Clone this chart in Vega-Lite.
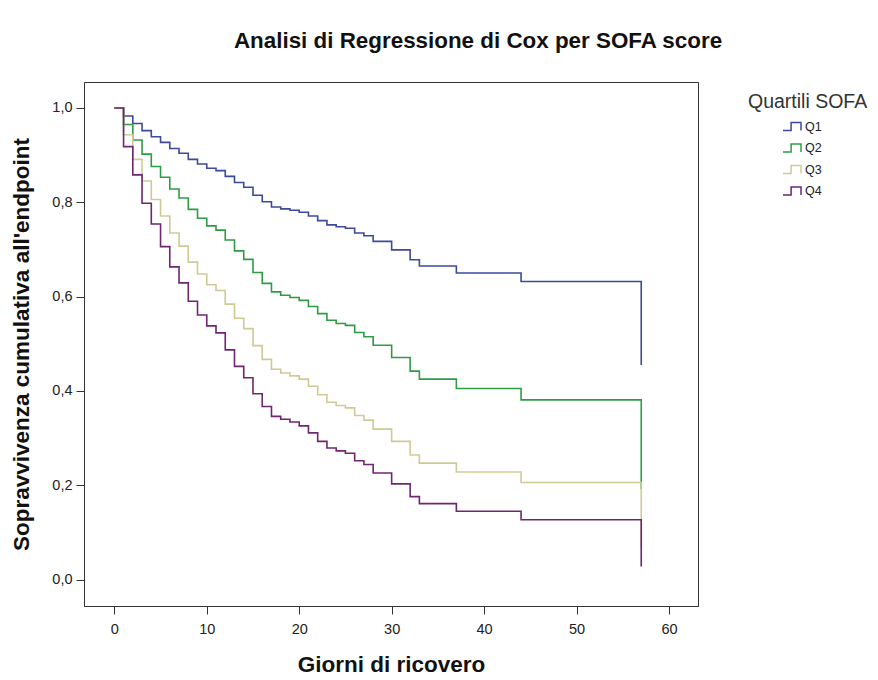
{
  "$schema": "https://vega.github.io/schema/vega-lite/v6.json",
  "width": 614,
  "height": 524,
  "autosize": {"type": "none"},
  "padding": {"left": 84, "top": 82, "right": 180, "bottom": 74},
  "background": "white",
  "title": {
    "text": "Analisi di Regressione di Cox per SOFA score",
    "anchor": "middle",
    "frame": "group",
    "dx": 87,
    "offset": 30,
    "font": "Liberation Sans",
    "fontSize": 22.4,
    "fontWeight": "bold",
    "color": "#111"
  },
  "config": {
    "view": {"stroke": "#333", "strokeWidth": 1},
    "axis": {
      "grid": false,
      "domainColor": "#333",
      "tickColor": "#333",
      "tickSize": 8,
      "labelFont": "Liberation Sans",
      "labelFontSize": 14.5,
      "labelColor": "#222",
      "titleFont": "Liberation Sans",
      "titleFontSize": 22.5,
      "titleFontWeight": "bold",
      "titleColor": "#111"
    },
    "legend": {"padding": 0}
  },
  "data": {"values": [
    {"giorni":0,"sopravvivenza":1.0,"quartile":"Q1"},{"giorni":1,"sopravvivenza":0.983,"quartile":"Q1"},{"giorni":2,"sopravvivenza":0.967,"quartile":"Q1"},{"giorni":3,"sopravvivenza":0.952,"quartile":"Q1"},{"giorni":4,"sopravvivenza":0.939,"quartile":"Q1"},{"giorni":5,"sopravvivenza":0.927,"quartile":"Q1"},{"giorni":6,"sopravvivenza":0.914,"quartile":"Q1"},{"giorni":7,"sopravvivenza":0.904,"quartile":"Q1"},{"giorni":8,"sopravvivenza":0.891,"quartile":"Q1"},{"giorni":9,"sopravvivenza":0.881,"quartile":"Q1"},{"giorni":10,"sopravvivenza":0.872,"quartile":"Q1"},{"giorni":11,"sopravvivenza":0.867,"quartile":"Q1"},{"giorni":12,"sopravvivenza":0.855,"quartile":"Q1"},{"giorni":13,"sopravvivenza":0.842,"quartile":"Q1"},{"giorni":14,"sopravvivenza":0.832,"quartile":"Q1"},{"giorni":15,"sopravvivenza":0.815,"quartile":"Q1"},{"giorni":16,"sopravvivenza":0.801,"quartile":"Q1"},{"giorni":17,"sopravvivenza":0.79,"quartile":"Q1"},{"giorni":18,"sopravvivenza":0.786,"quartile":"Q1"},{"giorni":19,"sopravvivenza":0.783,"quartile":"Q1"},{"giorni":20,"sopravvivenza":0.779,"quartile":"Q1"},{"giorni":21,"sopravvivenza":0.771,"quartile":"Q1"},{"giorni":22,"sopravvivenza":0.761,"quartile":"Q1"},{"giorni":23,"sopravvivenza":0.752,"quartile":"Q1"},{"giorni":24,"sopravvivenza":0.748,"quartile":"Q1"},{"giorni":25,"sopravvivenza":0.745,"quartile":"Q1"},{"giorni":26,"sopravvivenza":0.735,"quartile":"Q1"},{"giorni":27,"sopravvivenza":0.729,"quartile":"Q1"},{"giorni":28,"sopravvivenza":0.717,"quartile":"Q1"},{"giorni":30,"sopravvivenza":0.699,"quartile":"Q1"},{"giorni":32,"sopravvivenza":0.678,"quartile":"Q1"},{"giorni":33,"sopravvivenza":0.665,"quartile":"Q1"},{"giorni":37,"sopravvivenza":0.65,"quartile":"Q1"},{"giorni":44,"sopravvivenza":0.632,"quartile":"Q1"},{"giorni":57,"sopravvivenza":0.455,"quartile":"Q1"},
    {"giorni":0,"sopravvivenza":1.0,"quartile":"Q2"},{"giorni":1,"sopravvivenza":0.965,"quartile":"Q2"},{"giorni":2,"sopravvivenza":0.932,"quartile":"Q2"},{"giorni":3,"sopravvivenza":0.902,"quartile":"Q2"},{"giorni":4,"sopravvivenza":0.876,"quartile":"Q2"},{"giorni":5,"sopravvivenza":0.853,"quartile":"Q2"},{"giorni":6,"sopravvivenza":0.828,"quartile":"Q2"},{"giorni":7,"sopravvivenza":0.809,"quartile":"Q2"},{"giorni":8,"sopravvivenza":0.785,"quartile":"Q2"},{"giorni":9,"sopravvivenza":0.766,"quartile":"Q2"},{"giorni":10,"sopravvivenza":0.75,"quartile":"Q2"},{"giorni":11,"sopravvivenza":0.741,"quartile":"Q2"},{"giorni":12,"sopravvivenza":0.72,"quartile":"Q2"},{"giorni":13,"sopravvivenza":0.697,"quartile":"Q2"},{"giorni":14,"sopravvivenza":0.679,"quartile":"Q2"},{"giorni":15,"sopravvivenza":0.651,"quartile":"Q2"},{"giorni":16,"sopravvivenza":0.628,"quartile":"Q2"},{"giorni":17,"sopravvivenza":0.61,"quartile":"Q2"},{"giorni":18,"sopravvivenza":0.603,"quartile":"Q2"},{"giorni":19,"sopravvivenza":0.598,"quartile":"Q2"},{"giorni":20,"sopravvivenza":0.592,"quartile":"Q2"},{"giorni":21,"sopravvivenza":0.579,"quartile":"Q2"},{"giorni":22,"sopravvivenza":0.564,"quartile":"Q2"},{"giorni":23,"sopravvivenza":0.55,"quartile":"Q2"},{"giorni":24,"sopravvivenza":0.543,"quartile":"Q2"},{"giorni":25,"sopravvivenza":0.539,"quartile":"Q2"},{"giorni":26,"sopravvivenza":0.524,"quartile":"Q2"},{"giorni":27,"sopravvivenza":0.515,"quartile":"Q2"},{"giorni":28,"sopravvivenza":0.497,"quartile":"Q2"},{"giorni":30,"sopravvivenza":0.471,"quartile":"Q2"},{"giorni":32,"sopravvivenza":0.442,"quartile":"Q2"},{"giorni":33,"sopravvivenza":0.425,"quartile":"Q2"},{"giorni":37,"sopravvivenza":0.405,"quartile":"Q2"},{"giorni":44,"sopravvivenza":0.381,"quartile":"Q2"},{"giorni":57,"sopravvivenza":0.192,"quartile":"Q2"},
    {"giorni":0,"sopravvivenza":1.0,"quartile":"Q3"},{"giorni":1,"sopravvivenza":0.943,"quartile":"Q3"},{"giorni":2,"sopravvivenza":0.891,"quartile":"Q3"},{"giorni":3,"sopravvivenza":0.845,"quartile":"Q3"},{"giorni":4,"sopravvivenza":0.806,"quartile":"Q3"},{"giorni":5,"sopravvivenza":0.771,"quartile":"Q3"},{"giorni":6,"sopravvivenza":0.735,"quartile":"Q3"},{"giorni":7,"sopravvivenza":0.707,"quartile":"Q3"},{"giorni":8,"sopravvivenza":0.673,"quartile":"Q3"},{"giorni":9,"sopravvivenza":0.648,"quartile":"Q3"},{"giorni":10,"sopravvivenza":0.625,"quartile":"Q3"},{"giorni":11,"sopravvivenza":0.613,"quartile":"Q3"},{"giorni":12,"sopravvivenza":0.584,"quartile":"Q3"},{"giorni":13,"sopravvivenza":0.554,"quartile":"Q3"},{"giorni":14,"sopravvivenza":0.532,"quartile":"Q3"},{"giorni":15,"sopravvivenza":0.496,"quartile":"Q3"},{"giorni":16,"sopravvivenza":0.467,"quartile":"Q3"},{"giorni":17,"sopravvivenza":0.446,"quartile":"Q3"},{"giorni":18,"sopravvivenza":0.438,"quartile":"Q3"},{"giorni":19,"sopravvivenza":0.432,"quartile":"Q3"},{"giorni":20,"sopravvivenza":0.425,"quartile":"Q3"},{"giorni":21,"sopravvivenza":0.41,"quartile":"Q3"},{"giorni":22,"sopravvivenza":0.392,"quartile":"Q3"},{"giorni":23,"sopravvivenza":0.376,"quartile":"Q3"},{"giorni":24,"sopravvivenza":0.369,"quartile":"Q3"},{"giorni":25,"sopravvivenza":0.364,"quartile":"Q3"},{"giorni":26,"sopravvivenza":0.348,"quartile":"Q3"},{"giorni":27,"sopravvivenza":0.338,"quartile":"Q3"},{"giorni":28,"sopravvivenza":0.319,"quartile":"Q3"},{"giorni":30,"sopravvivenza":0.293,"quartile":"Q3"},{"giorni":32,"sopravvivenza":0.264,"quartile":"Q3"},{"giorni":33,"sopravvivenza":0.247,"quartile":"Q3"},{"giorni":37,"sopravvivenza":0.228,"quartile":"Q3"},{"giorni":44,"sopravvivenza":0.206,"quartile":"Q3"},{"giorni":57,"sopravvivenza":0.067,"quartile":"Q3"},
    {"giorni":0,"sopravvivenza":1.0,"quartile":"Q4"},{"giorni":1,"sopravvivenza":0.918,"quartile":"Q4"},{"giorni":2,"sopravvivenza":0.858,"quartile":"Q4"},{"giorni":3,"sopravvivenza":0.798,"quartile":"Q4"},{"giorni":4,"sopravvivenza":0.754,"quartile":"Q4"},{"giorni":5,"sopravvivenza":0.706,"quartile":"Q4"},{"giorni":6,"sopravvivenza":0.663,"quartile":"Q4"},{"giorni":7,"sopravvivenza":0.629,"quartile":"Q4"},{"giorni":8,"sopravvivenza":0.59,"quartile":"Q4"},{"giorni":9,"sopravvivenza":0.561,"quartile":"Q4"},{"giorni":10,"sopravvivenza":0.538,"quartile":"Q4"},{"giorni":11,"sopravvivenza":0.523,"quartile":"Q4"},{"giorni":12,"sopravvivenza":0.487,"quartile":"Q4"},{"giorni":13,"sopravvivenza":0.452,"quartile":"Q4"},{"giorni":14,"sopravvivenza":0.428,"quartile":"Q4"},{"giorni":15,"sopravvivenza":0.394,"quartile":"Q4"},{"giorni":16,"sopravvivenza":0.367,"quartile":"Q4"},{"giorni":17,"sopravvivenza":0.346,"quartile":"Q4"},{"giorni":18,"sopravvivenza":0.34,"quartile":"Q4"},{"giorni":19,"sopravvivenza":0.334,"quartile":"Q4"},{"giorni":20,"sopravvivenza":0.326,"quartile":"Q4"},{"giorni":21,"sopravvivenza":0.311,"quartile":"Q4"},{"giorni":22,"sopravvivenza":0.293,"quartile":"Q4"},{"giorni":23,"sopravvivenza":0.279,"quartile":"Q4"},{"giorni":24,"sopravvivenza":0.273,"quartile":"Q4"},{"giorni":25,"sopravvivenza":0.268,"quartile":"Q4"},{"giorni":26,"sopravvivenza":0.252,"quartile":"Q4"},{"giorni":27,"sopravvivenza":0.244,"quartile":"Q4"},{"giorni":28,"sopravvivenza":0.226,"quartile":"Q4"},{"giorni":30,"sopravvivenza":0.203,"quartile":"Q4"},{"giorni":32,"sopravvivenza":0.176,"quartile":"Q4"},{"giorni":33,"sopravvivenza":0.161,"quartile":"Q4"},{"giorni":37,"sopravvivenza":0.145,"quartile":"Q4"},{"giorni":44,"sopravvivenza":0.127,"quartile":"Q4"},{"giorni":57,"sopravvivenza":0.028,"quartile":"Q4"}
  ]},
  "mark": {"type": "line", "interpolate": "step-after", "strokeWidth": 1.6},
  "encoding": {
    "x": {
      "field": "giorni", "type": "quantitative",
      "scale": {"domain": [-3.28, 63.14], "nice": false, "zero": false},
      "axis": {"values": [0,10,20,30,40,50,60], "title": "Giorni di ricovero", "labelPadding": 8, "titlePadding": 18}
    },
    "y": {
      "field": "sopravvivenza", "type": "quantitative",
      "scale": {"domain": [-0.056, 1.055], "nice": false, "zero": false},
      "axis": {"values": [0,0.2,0.4,0.6,0.8,1.0], "labelExpr": "replace(format(datum.value, '.1f'), '.', ',')", "title": "Sopravvivenza cumulativa all'endpoint", "labelPadding": 4, "titlePadding": 18}
    },
    "color": {
      "field": "quartile", "type": "nominal",
      "scale": {"domain": ["Q1","Q2","Q3","Q4"], "range": ["#3b4a9a","#2f9c45","#cfca95","#6e2670"]},
      "legend": {
        "title": "Quartili SOFA",
        "orient": "none",
        "legendX": 664,
        "legendY": 11,
        "titleFont": "Liberation Sans",
        "titleFontSize": 19.5,
        "titleFontWeight": "normal",
        "titleColor": "#333",
        "titlePadding": 4,
        "labelFont": "Liberation Sans",
        "labelFontSize": 12.5,
        "labelColor": "#222",
        "symbolType": "M-1,0.45H-0.1V-0.45H1V0.45",
        "symbolSize": 324,
        "symbolStrokeWidth": 1.5,
        "symbolFillColor": "transparent",
        "symbolOffset": 34,
        "labelOffset": 3,
        "rowPadding": 3.5
      }
    }
  }
}
